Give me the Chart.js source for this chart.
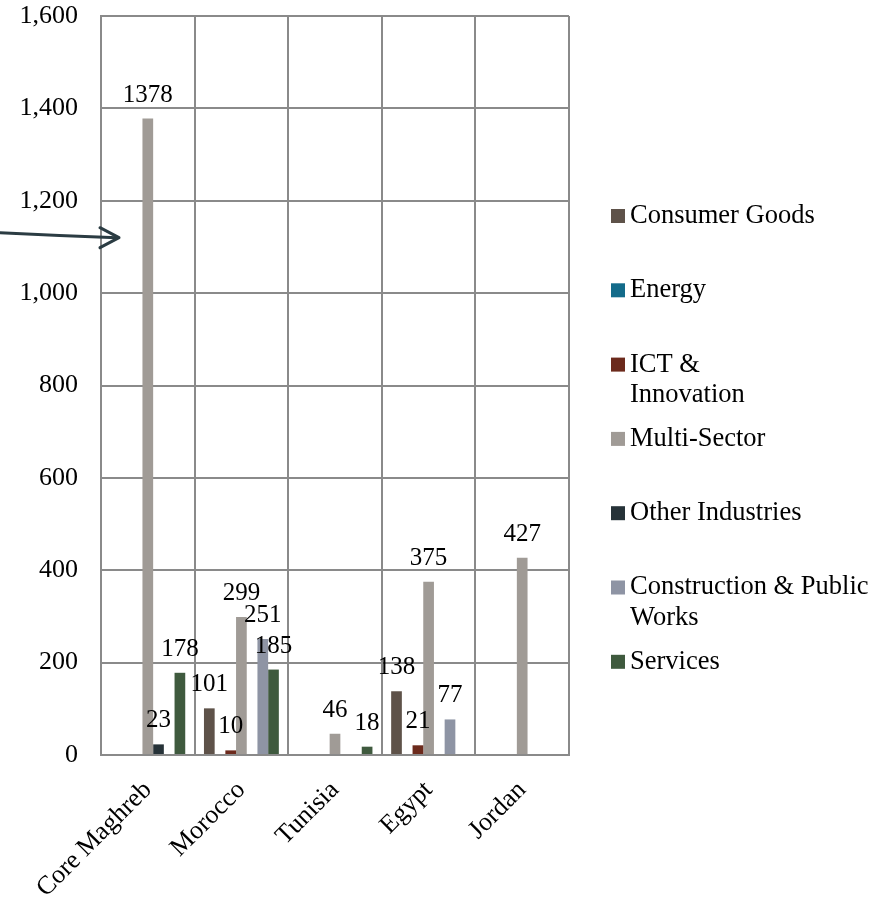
<!DOCTYPE html>
<html>
<head>
<meta charset="utf-8">
<script src="https://cdn.jsdelivr.net/npm/chart.js@4.4.0/dist/chart.umd.min.js"></script>
<style>
  html, body { margin: 0; padding: 0; background: #fff; }
  #wrap { position: relative; width: 881px; height: 897px; }
</style>
</head>
<body>
<div id="wrap"><canvas id="chart"></canvas></div>
<script>
/* ── Data ─────────────────────────────────────────────────── */
const regions = ['Core Maghreb', 'Morocco', 'Tunisia', 'Egypt', 'Jordan'];

const consumerGoods = [0, 101, 0, 138, 0];
const energy        = [0, 0, 0, 0, 0];
const ictInnovation = [0, 10, 0, 21, 0];
const multiSector   = [1378, 299, 46, 375, 427];
const otherIndustry = [23, 0, 0, 0, 0];
const construction  = [0, 251, 0, 77, 0];
const services      = [178, 185, 18, 0, 0];

const yTicks = [0, 200, 400, 600, 800, 1000, 1200, 1400, 1600];

/* ── Styles ───────────────────────────────────────────────── */
const FONT = '"Liberation Serif", "Times New Roman", serif';
const GRID = '#8a8a8a';

const series = [
  { label: 'Consumer Goods',              data: consumerGoods, color: '#5e5249' },
  { label: 'Energy',                      data: energy,        color: '#136b8a' },
  { label: 'ICT &\nInnovation',           data: ictInnovation, color: '#6c2a1c' },
  { label: 'Multi-Sector',                data: multiSector,   color: '#a09b96' },
  { label: 'Other Industries',            data: otherIndustry, color: '#263238' },
  { label: 'Construction & Public\nWorks', data: construction, color: '#8e94a4' },
  { label: 'Services',                    data: services,      color: '#3f5a3e' }
];

/* value labels above every non-zero bar */
const valueLabels = {
  id: 'valueLabels',
  afterDatasetsDraw(chart) {
    const ctx = chart.ctx;
    ctx.save();
    ctx.font = '25px ' + FONT;
    ctx.fillStyle = '#000';
    ctx.textAlign = 'center';
    ctx.textBaseline = 'alphabetic';
    chart.data.datasets.forEach((ds, di) => {
      const meta = chart.getDatasetMeta(di);
      meta.data.forEach((bar, i) => {
        const v = ds.data[i];
        if (!v) return;
        ctx.fillText(String(v), bar.x, bar.y - 17);
      });
    });
    ctx.restore();
  }
};

/* legend on the right, evenly spaced entries, wrapped names */
const sideLegend = {
  id: 'sideLegend',
  afterDraw(chart) {
    const ctx = chart.ctx;
    const x0 = chart.chartArea.right + 42;
    const top = 216, step = 74.3, lineH = 30.5, box = 14;
    ctx.save();
    ctx.font = '26.5px ' + FONT;
    ctx.textBaseline = 'middle';
    ctx.textAlign = 'left';
    chart.data.datasets.forEach((ds, i) => {
      const y = top + i * step;
      ctx.fillStyle = ds.backgroundColor;
      ctx.fillRect(x0, y - box / 2, box, box);
      ctx.fillStyle = '#000';
      ds.label.split('\n').forEach((line, k) => {
        ctx.fillText(line, x0 + 19, y + k * lineH);
      });
    });
    ctx.restore();
  }
};

/* pointer arrow into the Core Maghreb bars */
const pointer = {
  id: 'pointer',
  afterDraw(chart) {
    const ctx = chart.ctx;
    const ys = chart.scales.y;
    const tipX = chart.chartArea.left + 18;
    const tipY = ys.getPixelForValue(1120);
    ctx.save();
    ctx.strokeStyle = '#2b3c43';
    ctx.lineWidth = 3;
    ctx.lineCap = 'round';
    ctx.lineJoin = 'round';
    ctx.beginPath();
    ctx.moveTo(0, tipY - 5);
    ctx.quadraticCurveTo(60, tipY - 2, tipX - 2, tipY);
    ctx.stroke();
    ctx.beginPath();
    ctx.moveTo(tipX - 19, tipY - 10);
    ctx.lineTo(tipX, tipY);
    ctx.lineTo(tipX - 19, tipY + 10);
    ctx.stroke();
    ctx.restore();
  }
};

new Chart(document.getElementById('chart'), {
  type: 'bar',
  data: {
    labels: regions,
    datasets: series.map(s => ({
      label: s.label,
      data: s.data,
      backgroundColor: s.color,
      borderWidth: 0,
      barPercentage: 1,
      categoryPercentage: 0.8
    }))
  },
  options: {
    responsive: true,
    maintainAspectRatio: false,
    animation: false,
    layout: { padding: { top: 16, right: 312, left: 0, bottom: 0 } },
    plugins: {
      legend: { display: false },
      tooltip: { enabled: false }
    },
    scales: {
      x: {
        grid: { color: GRID, lineWidth: 2, drawTicks: false, offset: true },
        border: { color: GRID, width: 2 },
        ticks: {
          color: '#000',
          font: { family: FONT, size: 26 },
          minRotation: 45,
          maxRotation: 45,
          padding: 20
        },
        afterFit: scale => {
          scale.height = 142;
          scale.paddingLeft = 0;
          scale.paddingRight = 0;
        }
      },
      y: {
        min: 0,
        max: 1600,
        afterBuildTicks: scale => { scale.ticks = yTicks.map(v => ({ value: v })); },
        grid: { color: GRID, lineWidth: 2, drawTicks: false },
        border: { color: GRID, width: 2 },
        ticks: {
          color: '#000',
          font: { family: FONT, size: 26 },
          padding: 23,
          callback: v => v.toLocaleString('en-US')
        },
        afterFit: scale => {
          scale.width = 101;
          scale.paddingTop = 0;
          scale.paddingBottom = 0;
        }
      }
    }
  },
  plugins: [valueLabels, sideLegend, pointer]
});
</script>
</body>
</html>
